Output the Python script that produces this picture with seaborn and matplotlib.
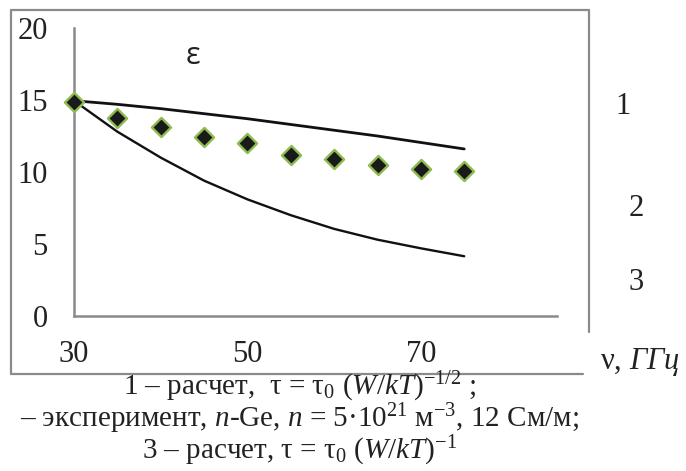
import numpy as np
import pandas as pd
import seaborn as sns
import matplotlib.pyplot as plt
from matplotlib.lines import Line2D

# Values
freq = [30, 35, 40, 45, 50, 55, 60, 65, 70, 75]          # ν, GHz
eps_calc1 = [14.95, 14.7, 14.4, 14.05, 13.7, 13.3, 12.9, 12.5, 12.05, 11.6]
eps_exp = [14.85, 13.75, 13.15, 12.45, 12.0, 11.2, 10.9, 10.5, 10.2, 10.05]
eps_calc3 = [14.95, 12.8, 11.0, 9.4, 8.1, 7.0, 6.05, 5.3, 4.7, 4.15]
x_ticks = [30, 50, 70]
y_ticks = [0, 5, 10, 15, 20]

df = pd.DataFrame({'nu': freq, 'calc1': eps_calc1, 'exp': eps_exp, 'calc3': eps_calc3})

sns.set_style('white')
plt.rcParams['font.family'] = ['Liberation Serif', 'DejaVu Serif']
plt.rcParams['mathtext.fontset'] = 'custom'
plt.rcParams['mathtext.rm'] = 'Liberation Serif'
plt.rcParams['mathtext.it'] = 'Liberation Serif:italic'

W, H = 686, 471
fig = plt.figure(figsize=(W / 100, H / 100), dpi=100)


def fx(px):
    return px / W


def fy(py):
    return 1 - py / H


ax = fig.add_axes([fx(74), fy(316), fx(557) - fx(74), fy(28) - fy(316)])

grey = '#8a8a8a'
txt = '#222222'
sns.lineplot(data=df, x='nu', y='calc1', ax=ax, color='#111111', lw=2.0)
sns.lineplot(data=df, x='nu', y='calc3', ax=ax, color='#111111', lw=1.7)
sns.scatterplot(data=df, x='nu', y='exp', ax=ax, marker='D', s=95,
                color='#1a1a1a', edgecolor='#8fbc4f', linewidth=1.7, zorder=5, clip_on=False)

ax.set_xlim(30, 85.7)
ax.set_ylim(0, 20)
ax.set_xticks(x_ticks)
ax.set_yticks(y_ticks)
ax.set_xlabel('')
ax.set_ylabel('')
for s in ['top', 'right']:
    ax.spines[s].set_visible(False)
for s in ['left', 'bottom']:
    ax.spines[s].set_color(grey)
    ax.spines[s].set_linewidth(1.8)
ax.tick_params(axis='both', direction='out', length=7, width=1.5, color=grey,
               labelsize=22, labelcolor=txt, pad=12)
ax.tick_params(axis='x', pad=10)

# outer frame
lw_frame = 1.6
fig.add_artist(Line2D([fx(11), fx(11)], [fy(10), fy(374)], color=grey, lw=lw_frame))
fig.add_artist(Line2D([fx(11), fx(589)], [fy(10), fy(10)], color=grey, lw=lw_frame))
fig.add_artist(Line2D([fx(589), fx(589)], [fy(10), fy(332)], color=grey, lw=lw_frame))
fig.add_artist(Line2D([fx(11), fx(583)], [fy(374), fy(374)], color=grey, lw=lw_frame))

# labels
fig.text(fx(193), fy(56), 'ε', family=['Open Sans', 'DejaVu Sans'], fontsize=22,
         ha='center', va='center', color=txt)
fig.text(fx(623), fy(107), '1', fontsize=22, ha='center', va='center', color=txt)
fig.text(fx(636), fy(208), '2', fontsize=22, ha='center', va='center', color=txt)
fig.text(fx(636), fy(283), '3', fontsize=22, ha='center', va='center', color=txt)
fig.text(fx(600), fy(362), r'ν, $\mathit{ГГц}$', fontsize=22, ha='left', va='center',
         color=txt)

cap = [
    r'1 – расчет,  τ = τ$_0$ ($\mathit{W/kT}$)$^{-1/2}$ ;',
    r'– эксперимент, $\mathit{n}$-Ge, $\mathit{n}$ = 5·10$^{21}$ м$^{-3}$, 12 См/м;',
    r'3 – расчет, τ = τ$_0$ ($\mathit{W/kT}$)$^{-1}$',
]
for line, py in zip(cap, [387, 419, 451]):
    fig.text(fx(300), fy(py), line, fontsize=21, ha='center', va='center', color=txt)

fig.savefig('out.png', dpi=100)
